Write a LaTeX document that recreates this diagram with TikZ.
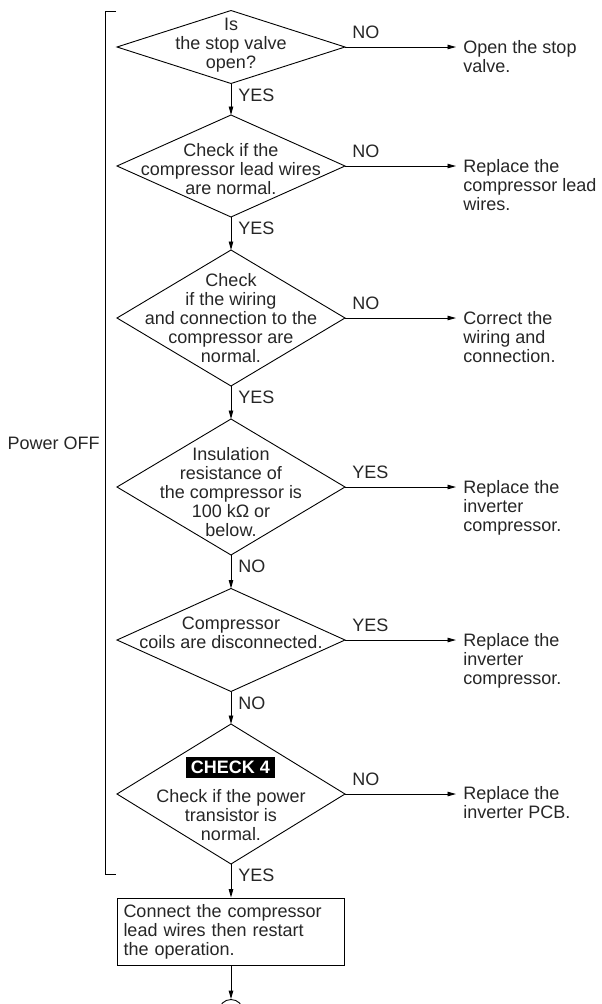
\documentclass[tikz,border=0pt]{standalone}
\usepackage{fontspec}
\setmainfont{Liberation Sans}
\usetikzlibrary{shapes.geometric,arrows.meta,calc}
\definecolor{txt}{HTML}{262626}
\begin{document}
\begin{tikzpicture}[x=1pt,y=-1pt, font=\fontsize{18}{19}\selectfont, text=txt,
  line width=0.9pt,
  dia/.style={draw, shape=diamond, minimum width=228pt, inner sep=0pt, outer sep=0pt},
  dtext/.style={align=center, inner sep=0pt},
  res/.style={align=left, anchor=north west, inner xsep=7pt, inner ysep=0pt},
  arr/.style={-{Triangle[length=8.5pt,width=4.5pt]}},
  lab/.style={anchor=base west, inner sep=0pt}]
\useasboundingbox (0,0) rectangle (602,1004);

% decisions
\node[dia, minimum height=73pt]  (d1) at (231,47) {};
\node[dia, minimum height=102pt] (d2) at (231,166) {};
\node[dia, minimum height=136pt] (d3) at (231,318) {};
\node[dia, minimum height=136pt] (d4) at (231,487) {};
\node[dia, minimum height=103pt] (d5) at (231,640) {};
\node[dia, minimum height=140pt] (d6) at (231,794) {};

\node[dtext] (t1) at (231,45) {Is\\the stop valve\\open?};
\node[dtext] (t2) at (231,169) {Check if the\\compressor lead wires\\are normal.};
\node[dtext] (t3) at (231,318) {Check\\if the wiring\\and connection to the\\compressor are\\normal.};
\node[dtext] (t4) at (231,492) {Insulation\\resistance of\\the compressor is\\100 kΩ or\\below.};
\node[dtext] (t5) at (231,632.5) {Compressor\\coils are disconnected.};
\node[fill=black, text=white, font=\fontsize{18}{19}\selectfont\bfseries, inner xsep=4.5pt, inner ysep=0pt, minimum height=21pt] (ck) at (230.5,767.5) {CHECK 4};
\node[dtext] (t6) at (231,815) {Check if the power\\transistor is\\normal.};

% results
\node[res] (r1) at (456,40) {Open the stop\\valve.};
\node[res] (r2) at (456,159) {Replace the\\compressor lead\\wires.};
\node[res] (r3) at (456,311) {Correct the\\wiring and\\connection.};
\node[res] (r4) at (456,480) {Replace the\\inverter\\compressor.};
\node[res] (r5) at (456,633) {Replace the\\inverter\\compressor.};
\node[res] (r6) at (456,786) {Replace the\\inverter PCB.};

\node[draw, text width=215pt, align=left, inner sep=6pt, minimum height=67pt] (bx) at (231,931.5) {Connect the compressor\\lead wires then restart\\the operation.};
\node[draw, circle, minimum size=24pt, inner sep=0pt] (c1) at (231,1011.5) {};

% horizontal connectors
\draw[arr] (d1.east) -- (r1.west |- d1.east);
\draw[arr] (d2.east) -- (r2.west |- d2.east);
\draw[arr] (d3.east) -- (r3.west |- d3.east);
\draw[arr] (d4.east) -- (r4.west |- d4.east);
\draw[arr] (d5.east) -- (r5.west |- d5.east);
\draw[arr] (d6.east) -- (r6.west |- d6.east);

\node[lab] (l1) at ($(d1.east)+(7,-9)$) {NO};
\node[lab] (l2) at ($(d2.east)+(7,-9)$) {NO};
\node[lab] (l3) at ($(d3.east)+(7,-9)$) {NO};
\node[lab] (l4) at ($(d4.east)+(7,-9)$) {YES};
\node[lab] (l5) at ($(d5.east)+(7,-9)$) {YES};
\node[lab] (l6) at ($(d6.east)+(7,-9)$) {NO};

% vertical connectors
\draw[arr] (d1.south) -- (d2.north);
\draw[arr] (d2.south) -- (d3.north);
\draw[arr] (d3.south) -- (d4.north);
\draw[arr] (d4.south) -- (d5.north);
\draw[arr] (d5.south) -- (d6.north);
\draw[arr] (d6.south) -- (bx.north);
\draw[arr] (bx.south) -- (c1.north);

\node[lab] (v1) at ($(d1.south)+(7,17.5)$) {YES};
\node[lab] (v2) at ($(d2.south)+(7,17.5)$) {YES};
\node[lab] (v3) at ($(d3.south)+(7,17.5)$) {YES};
\node[lab] (v4) at ($(d4.south)+(7,17.5)$) {NO};
\node[lab] (v5) at ($(d5.south)+(7,17.5)$) {NO};
\node[lab] (v6) at ($(d6.south)+(7,17.5)$) {YES};

% bracket
\draw (116,11) -- (105,11) -- (105,874) -- (116,874);
\node[anchor=east, inner sep=0pt] (pw) at (100,443) {Power OFF};
\end{tikzpicture}
\end{document}
